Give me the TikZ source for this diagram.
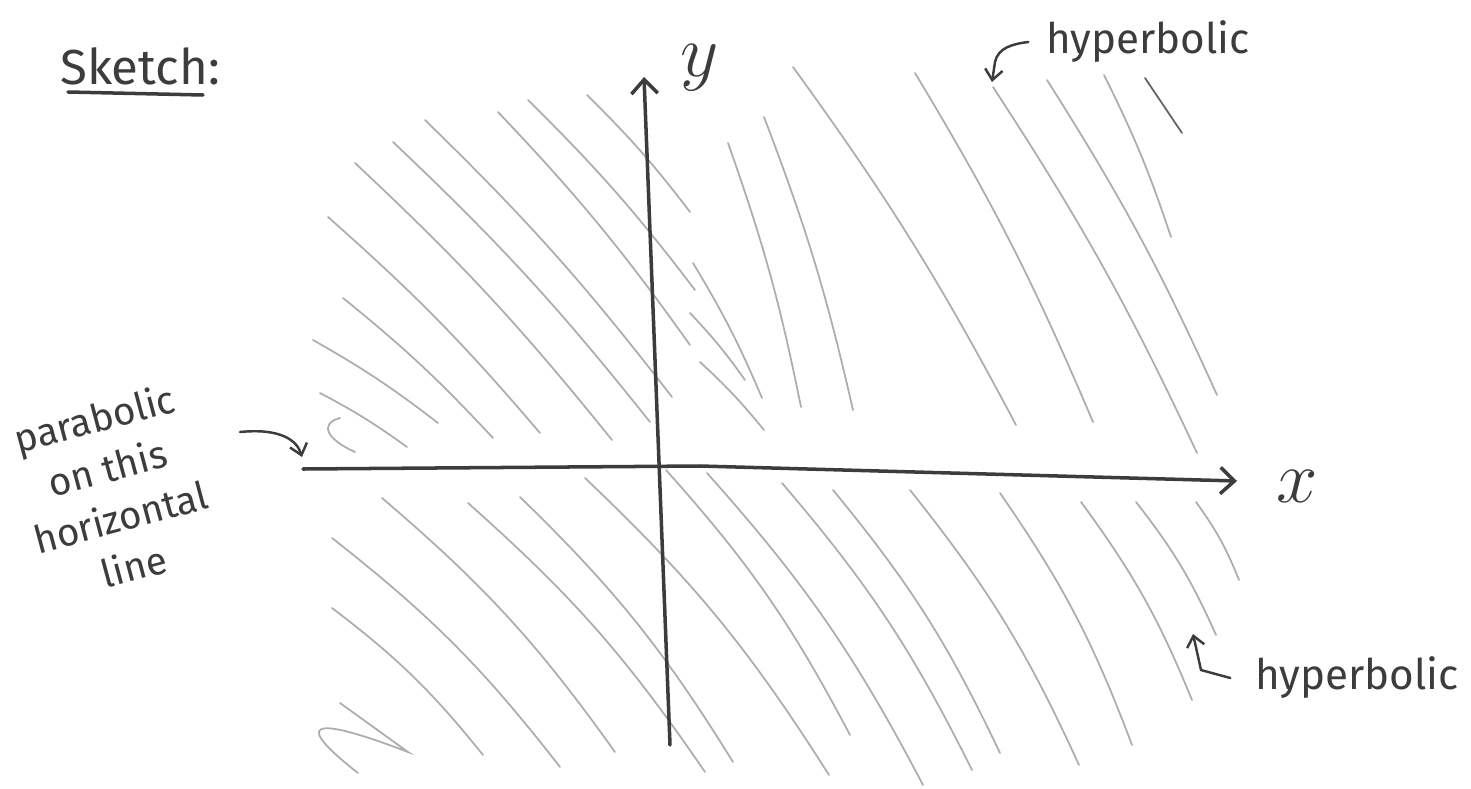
\documentclass[tikz,border=0pt]{standalone}
\usepackage{fontspec}
\setmainfont{Fira Sans}
\usetikzlibrary{arrows.meta}
\definecolor{pencil}{HTML}{3C3C3C}
\definecolor{shade}{HTML}{ADADAD}
\tikzset{
  axis/.style={draw=pencil,line width=2pt,line cap=round,-{Straight Barb[length=8pt,width=15pt]}},
  hatch/.style={draw=shade,line width=1pt,line cap=round},
  note/.style={text=pencil,inner sep=0pt,font=\fontsize{24}{26}\selectfont},
  pointer/.style={draw=pencil,line width=1.4pt,line cap=round,-{Straight Barb[length=6pt,width=10pt]}},
}

\begin{document}
\begin{tikzpicture}[x=0.02cm,y=-0.02cm]
\useasboundingbox (0,0) rectangle (1471,788);

% shading above the x axis
\foreach \a/\b/\c/\d in {320/393/407/447, 313/340/438/423, 343/298/493/438,
    328/217/540/433, 355/163/612/440, 393/142/650/422, 425/120/672/397,
    498/112/690/345, 528/100/695/290, 587/95/690/212, 693/263/762/398,
    690/313/745/380, 700/362/764/430, 728/143/801/407, 764/117/853/410,
    793/67/1016/425, 915/73/1093/422, 993/87/1197/453, 1047/80/1217/395,
    1104/75/1171/237}
  \draw[hatch] (\a,\b) to[bend left=4] (\c,\d);
\draw[hatch] (340,418) .. controls (318,424) and (328,440) .. (355,452);
\draw[hatch,draw=pencil!80] (1145,78) -- (1182,133);

% shading below the x axis
\foreach \a/\b/\c/\d in {332/608/483/755, 332/538/560/767, 382/498/615/752,
    468/503/705/772, 520/497/733/762, 585/478/829/775, 666/470/850/735,
    707/473/923/785, 782/483/972/770, 833/490/1000/753, 910/490/1079/765,
    1000/493/1132/745, 1081/502/1192/700, 1136/502/1216/635, 1196/502/1239/580}
  \draw[hatch] (\a,\b) to[bend left=7] (\c,\d);
\draw[hatch] (340,703) -- (408,752) .. controls (330,722) and (280,712) .. (358,773);

% axes
\coordinate (xa) at (303,469);
\coordinate (xm) at (700,466);
\coordinate (xb) at (1237,481);
\coordinate (ya) at (670,745);
\coordinate (yb) at (644,77);
\draw[axis] (xa) -- (xm) -- (xb);
\draw[axis] (ya) -- (yb);
\node[note,scale=1.7] (xlab) at (1297,486) {$x$};
\node[note,scale=1.7] (ylab) at (700,68) {$y$};

% labels
\node[note,font=\fontsize{28}{30}\selectfont] (sketch) at (140,66) {Sketch:};
\draw[pencil,line width=2pt,line cap=round] (68,92) -- (203,95);
\node[note] (hyptop) at (1148,42) {hyperbolic};
\node[note] (hypbot) at (1357,678) {hyperbolic};
\node[note,font=\fontsize{22}{29}\selectfont,align=center,rotate=15] (para) at (114,492)
  {parabolic\\on this\\horizontal\\line};

% pointers
\coordinate (pstart) at (240,432);
\coordinate (ptip) at (302,457);
\coordinate (toptip) at (992,82);
\coordinate (bottip) at (1193,634);
\draw[pointer] (pstart) .. controls (280,428) and (297,440) .. (ptip);
\draw[pointer] ([xshift=-10pt]hyptop.west) .. controls (1012,44) and (998,48) .. (995,62) -- (toptip);
\draw[pointer] ([xshift=-14pt]hypbot.west) -- (1201,670) -- (bottip);
\end{tikzpicture}
\end{document}
